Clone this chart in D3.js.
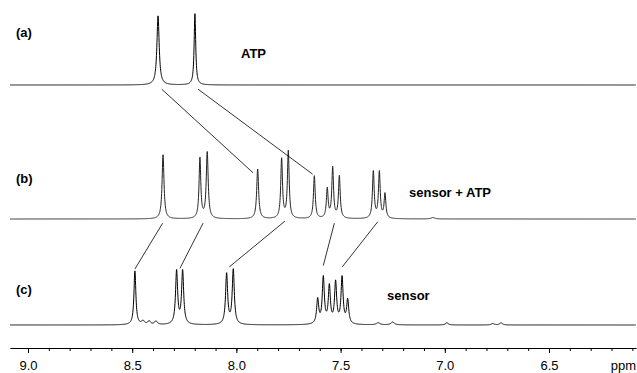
<!DOCTYPE html>
<html>
<head>
<meta charset="utf-8">
<script src="https://cdn.jsdelivr.net/npm/d3@7"></script>
<style>
  body { margin: 0; background: #fff; }
  svg { display: block; }
  .label { font-family: "Liberation Sans", Arial, sans-serif; font-size: 13px; font-weight: bold; fill: #000; }
  .axis text { font-family: "Liberation Sans", Arial, sans-serif; font-size: 13px; fill: #000; }
  .axis path, .axis line { stroke: #000; }
</style>
</head>
<body>
<div id="chart"></div>
<script>
// peaks: [ppm, relative height, half width (ppm)]
var peaksA = [
  [8.376, 0.99, 0.0065],
  [8.199, 1.02, 0.0045]
];
var peaksB = [
  [8.352, 0.92, 0.0055],
  [8.175, 0.86, 0.0050],
  [8.140, 0.95, 0.0055],
  [7.898, 0.71, 0.0055],
  [7.783, 0.85, 0.0050],
  [7.751, 0.96, 0.0050],
  [7.626, 0.61, 0.0050],
  [7.564, 0.42, 0.0050],
  [7.538, 0.72, 0.0050],
  [7.506, 0.60, 0.0050],
  [7.343, 0.67, 0.0050],
  [7.314, 0.66, 0.0050],
  [7.287, 0.35, 0.0050],
  [7.057, 0.02, 0.0100]
];
var peaksC = [
  [8.487, 0.77, 0.0055],
  [8.448, 0.05, 0.0080],
  [8.419, 0.05, 0.0080],
  [8.386, 0.05, 0.0080],
  [8.287, 0.76, 0.0060],
  [8.258, 0.76, 0.0060],
  [8.047, 0.72, 0.0060],
  [8.015, 0.78, 0.0060],
  [7.610, 0.35, 0.0060],
  [7.583, 0.66, 0.0060],
  [7.554, 0.53, 0.0060],
  [7.524, 0.59, 0.0060],
  [7.493, 0.66, 0.0060],
  [7.466, 0.34, 0.0060],
  [7.320, 0.03, 0.0100],
  [7.250, 0.04, 0.0100],
  [6.990, 0.03, 0.0080],
  [6.770, 0.02, 0.0080],
  [6.730, 0.03, 0.0080]
];

// connecting lines: [from ppm, from height, to ppm, to height]
var linksAB = [
  [8.358, -0.06, 7.920, 0.66],
  [8.184, -0.06, 7.634, 0.64]
];
var linksBC = [
  [8.354, -0.06, 8.487, 0.80],
  [8.160, -0.06, 8.271, 0.81],
  [7.767, -0.03, 8.034, 0.83],
  [7.530, -0.06, 7.583, 0.85],
  [7.322, -0.04, 7.492, 0.83]
];

var panelNames = ["(a)", "(b)", "(c)"];
var panelTitles = ["ATP", "sensor + ATP", "sensor"];
var majorTicks = [9.0, 8.5, 8.0, 7.5, 7.0, 6.5];
var minorTicks = [9.0, 8.9, 8.8, 8.7, 8.6, 8.5, 8.4, 8.3, 8.2, 8.1, 8.0, 7.9, 7.8, 7.7, 7.6,
                  7.5, 7.4, 7.3, 7.2, 7.1, 7.0, 6.9, 6.8, 6.7, 6.6, 6.5, 6.4, 6.3, 6.2, 6.1];
var ppmRange = [9.086, 6.083];

var width = 637, height = 373;

var svg = d3.select("#chart").append("svg")
    .attr("width", width)
    .attr("height", height);

var x = d3.scaleLinear().domain([9.0, 6.5]).range([28, 549]);

// one y scale per trace, heights 0..1
var ys = [
  d3.scaleLinear().domain([0, 1]).range([85, 15]),
  d3.scaleLinear().domain([0, 1]).range([219, 149]),
  d3.scaleLinear().domain([0, 1]).range([325, 255])
];

// sum of lorentzian lines
function spectrum(peaks) {
    var pts = [];
    for (var p = ppmRange[0]; p >= ppmRange[1]; p -= 0.0008) {
        var v = 0;
        peaks.forEach(function (k) {
            var d = (p - k[0]) / k[2];
            v += k[1] / (1 + d * d);
        });
        pts.push([p, v]);
    }
    return pts;
}

var traces = [peaksA, peaksB, peaksC];
var strokes = ["#000", "#222", "#000"];

traces.forEach(function (peaks, i) {
    var line = d3.line()
        .x(function (d) { return x(d[0]); })
        .y(function (d) { return ys[i](d[1]); });
    svg.append("path")
        .datum(spectrum(peaks))
        .attr("d", line)
        .attr("fill", "none")
        .attr("stroke", strokes[i])
        .attr("stroke-width", 1);
});

function drawLinks(links, yFrom, yTo) {
    svg.append("g").selectAll("line")
        .data(links)
        .enter()
        .append("line")
        .attr("x1", function (d) { return x(d[0]); })
        .attr("y1", function (d) { return yFrom(d[1]); })
        .attr("x2", function (d) { return x(d[2]); })
        .attr("y2", function (d) { return yTo(d[3]); })
        .attr("stroke", "#000")
        .attr("stroke-width", 0.8);
}
drawLinks(linksAB, ys[0], ys[1]);
drawLinks(linksBC, ys[1], ys[2]);

// panel labels
var nameY = [37, 183, 294];
var titlePos = [[241, 58], [409, 197], [387, 300]];
panelNames.forEach(function (n, i) {
    svg.append("text").attr("class", "label")
        .attr("x", 16).attr("y", nameY[i]).text(n);
    svg.append("text").attr("class", "label")
        .attr("x", titlePos[i][0]).attr("y", titlePos[i][1]).text(panelTitles[i]);
});

// ppm axis
var xAxisScale = x.copy().domain(ppmRange).range([x(ppmRange[0]), x(ppmRange[1])]);

svg.append("g")
    .attr("class", "axis")
    .attr("transform", "translate(0,348)")
    .call(d3.axisBottom(xAxisScale).tickValues(minorTicks).tickSize(3).tickSizeOuter(0).tickFormat(""));

svg.append("g")
    .attr("class", "axis")
    .attr("transform", "translate(0,348)")
    .call(d3.axisBottom(xAxisScale).tickValues(majorTicks).tickSize(5).tickSizeOuter(0)
        .tickPadding(8).tickFormat(d3.format(".1f")));

svg.append("text")
    .attr("class", "axis")
    .attr("x", 636).attr("y", 370)
    .attr("text-anchor", "end")
    .style("font-family", "'Liberation Sans', Arial, sans-serif")
    .style("font-size", "13px")
    .text("ppm");
</script>
</body>
</html>
